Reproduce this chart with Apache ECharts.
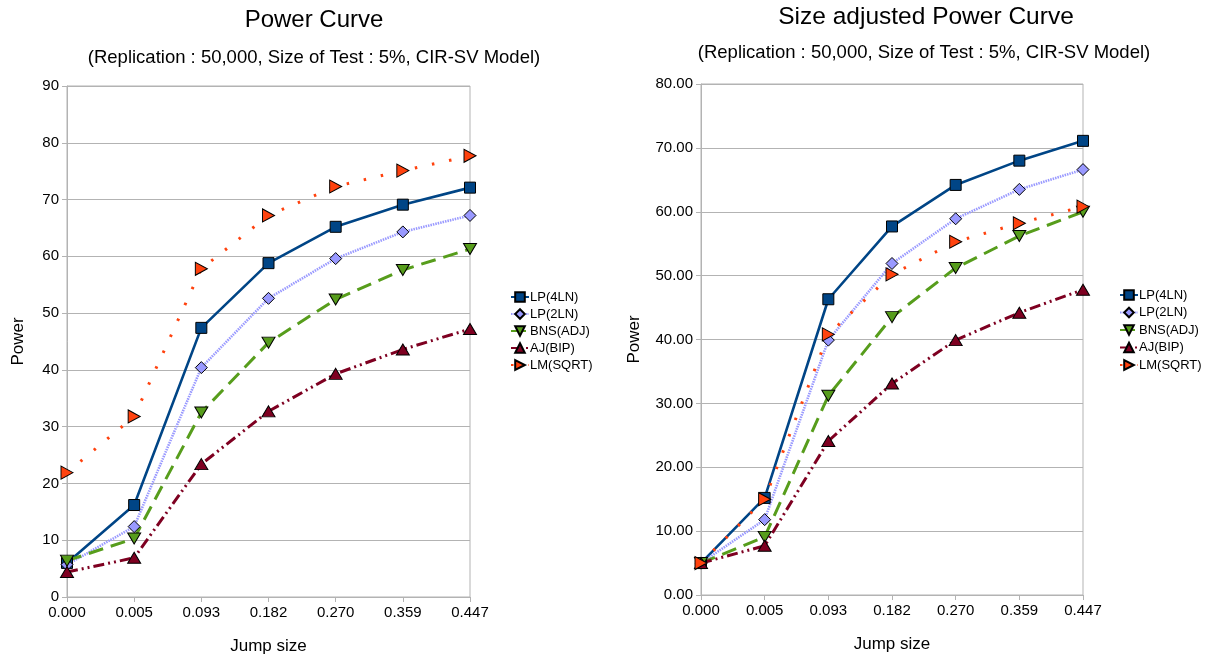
<!DOCTYPE html>
<html>
<head>
<meta charset="utf-8">
<script src="https://cdn.jsdelivr.net/npm/echarts@6/dist/echarts.min.js"></script>
<style>
html,body{margin:0;padding:0;background:#fff;}
#c{width:1220px;height:660px;}
</style>
</head>
<body>
<div id="c"></div>
<script>
const categories = ['0.000', '0.005', '0.093', '0.182', '0.270', '0.359', '0.447'];
const seriesNames = ['LP(4LN)', 'LP(2LN)', 'BNS(ADJ)', 'AJ(BIP)', 'LM(SQRT)'];

// Left chart: Power Curve
const powerLP4 = [6.0, 16.2, 47.4, 58.8, 65.2, 69.1, 72.1];
const powerLP2 = [5.7, 12.4, 40.4, 52.6, 59.6, 64.3, 67.2];
const powerBNS = [6.4, 10.3, 32.5, 44.8, 52.4, 57.6, 61.3];
const powerAJ  = [4.4, 6.9, 23.4, 32.7, 39.3, 43.6, 47.2];
const powerLM  = [21.9, 31.8, 57.8, 67.2, 72.3, 75.1, 77.7];

// Right chart: Size adjusted Power Curve
const adjLP4 = [5.0, 15.2, 46.3, 57.7, 64.2, 68.0, 71.1];
const adjLP2 = [5.0, 11.8, 39.9, 51.9, 58.9, 63.5, 66.6];
const adjBNS = [5.0, 9.1, 31.2, 43.5, 51.2, 56.2, 60.0];
const adjAJ  = [5.0, 7.7, 24.1, 33.1, 39.9, 44.2, 47.8];
const adjLM  = [5.0, 15.0, 40.8, 50.2, 55.3, 58.2, 60.8];

const FONT = '"Liberation Sans", Arial, sans-serif';
const GRAY = '#b3b3b3';

const styles = [
  {color:'#004586', symbol:'rect', symbolSize:11, rotate:0, line:{width:2.6, type:'solid'}},
  {color:'#9999ff', symbol:'diamond', symbolSize:[12,12], rotate:0, line:{width:2.6, type:[1.5,1]}},
  {color:'#579d1c', symbol:'triangle', symbolSize:[13,11], rotate:180, line:{width:3, type:[15,8]}},
  {color:'#7e0021', symbol:'triangle', symbolSize:[13,11], rotate:0, line:{width:3, type:[11,4,2,4,2,4]}},
  {color:'#ff420e', symbol:'triangle', symbolSize:[13,12], rotate:-90, line:{width:3, type:[2.5,15]}}
];

function mkSeries(name, data, idx, axisIdx) {
  const s = styles[idx];
  return {
    name: name, type: 'line', data: data,
    xAxisIndex: axisIdx, yAxisIndex: axisIdx,
    symbol: s.symbol, symbolSize: s.symbolSize, symbolRotate: s.rotate,
    showAllSymbol: true,
    itemStyle: {color: s.color, borderColor: '#000', borderWidth: 1},
    lineStyle: {color: s.color, width: s.line.width, type: s.line.type},
    emphasis: {disabled: true},
    animation: false
  };
}

const leftData = [powerLP4, powerLP2, powerBNS, powerAJ, powerLM];
const rightData = [adjLP4, adjLP2, adjBNS, adjAJ, adjLM];
const series = [];
seriesNames.forEach((n, i) => series.push(mkSeries(n, leftData[i], i, 0)));
seriesNames.forEach((n, i) => series.push(mkSeries(n, rightData[i], i, 1)));

function xAxis(gridIndex) {
  return {
    type: 'category', gridIndex: gridIndex, data: categories, boundaryGap: false,
    name: 'Jump size', nameLocation: 'middle', nameGap: 41,
    nameTextStyle: {fontFamily: FONT, fontSize: 17, color: '#000'},
    axisLine: {show: true, lineStyle: {color: GRAY, width: 1}},
    axisTick: {show: true, length: 5, inside: false, alignWithLabel: true, lineStyle: {color: GRAY}},
    axisLabel: {fontFamily: FONT, fontSize: 15, color: '#000', margin: 8},
    splitLine: {show: false}
  };
}
function yAxis(gridIndex, max, dec) {
  return {
    type: 'value', gridIndex: gridIndex, min: 0, max: max, interval: 10,
    name: 'Power', nameLocation: 'middle', nameGap: dec ? 58 : 40, nameRotate: 90,
    nameTextStyle: {fontFamily: FONT, fontSize: 17, color: '#000'},
    axisLine: {show: true, lineStyle: {color: GRAY, width: 1}},
    axisTick: {show: true, length: 5, inside: false, lineStyle: {color: GRAY}},
    axisLabel: {fontFamily: FONT, fontSize: 15, color: '#000', margin: 8,
      formatter: v => dec ? v.toFixed(2) : String(v)},
    splitLine: {show: true, lineStyle: {color: GRAY, width: 1}}
  };
}

const chart = echarts.init(document.getElementById('c'), null, {renderer: 'canvas'});
chart.setOption({
  animation: false,
  backgroundColor: '#fff',
  title: [
    {text: 'Power Curve', left: 309, top: 3, textAlign: 'center',
     textStyle: {fontFamily: FONT, fontSize: 24, fontWeight: 'normal', color: '#000'}},
    {text: '(Replication : 50,000, Size of Test : 5%, CIR-SV Model)', left: 309, top: 43, textAlign: 'center',
     textStyle: {fontFamily: FONT, fontSize: 18.5, fontWeight: 'normal', color: '#000'}},
    {text: 'Size adjusted Power Curve', left: 921, top: 0, textAlign: 'center',
     textStyle: {fontFamily: FONT, fontSize: 24.5, fontWeight: 'normal', color: '#000'}},
    {text: '(Replication : 50,000, Size of Test : 5%, CIR-SV Model)', left: 919, top: 38, textAlign: 'center',
     textStyle: {fontFamily: FONT, fontSize: 18.5, fontWeight: 'normal', color: '#000'}}
  ],
  legend: [
    {data: seriesNames, orient: 'vertical', left: 505, top: 285, itemWidth: 18, itemHeight: 12, itemGap: 3,
     textStyle: {fontFamily: FONT, fontSize: 13, color: '#000', padding: [0,0,0,-4], lineHeight: 14}, selectedMode: false},
    {data: seriesNames, orient: 'vertical', left: 1114, top: 283, itemWidth: 18, itemHeight: 12, itemGap: 3.5,
     textStyle: {fontFamily: FONT, fontSize: 13, color: '#000', padding: [0,0,0,-4], lineHeight: 14}, selectedMode: false}
  ],
  grid: [
    {left: 67, right: 750, top: 86, bottom: 63, show: true, borderColor: GRAY, borderWidth: 1, backgroundColor: 'transparent'},
    {left: 701, right: 137, top: 84, bottom: 65, show: true, borderColor: GRAY, borderWidth: 1, backgroundColor: 'transparent'}
  ],
  xAxis: [xAxis(0), xAxis(1)],
  yAxis: [yAxis(0, 90, false), yAxis(1, 80, true)],
  series: series
});
</script>
</body>
</html>
